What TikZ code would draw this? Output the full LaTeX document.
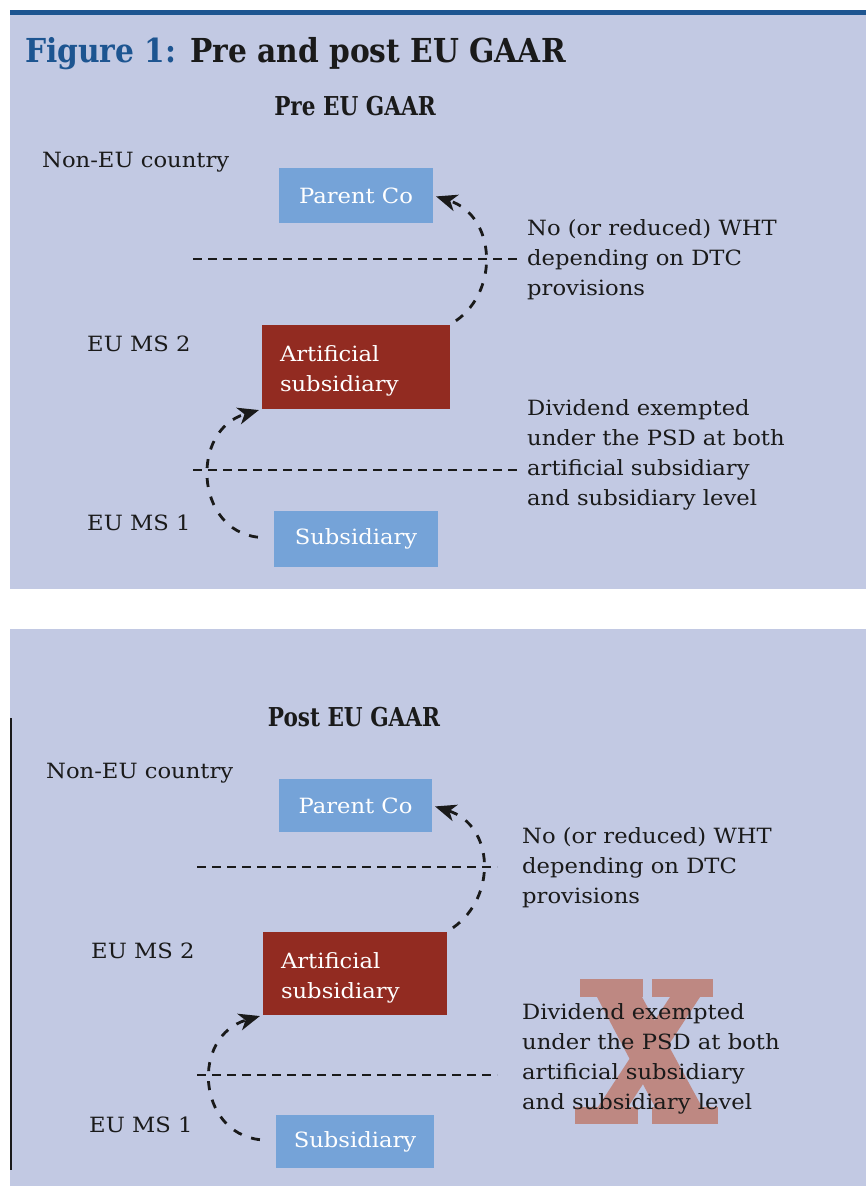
\documentclass[tikz,border=0pt]{standalone}
\usepackage{fontspec}
\setmainfont{DejaVu Serif}[FakeStretch=1.08]
\newfontfamily\headfont{DejaVu Serif}[FakeStretch=0.83]
\newfontfamily\titlefont{DejaVu Serif}[FakeStretch=0.9]
\usetikzlibrary{arrows.meta}
\definecolor{panelbg}{HTML}{C2C9E3}
\definecolor{boxblue}{HTML}{75A3D8}
\definecolor{boxred}{HTML}{922B21}
\definecolor{titleblue}{HTML}{1D5591}
\definecolor{xred}{HTML}{BE8882}
\definecolor{inkblack}{HTML}{1A1A1A}
\tikzset{
  bodytxt/.style={font=\fontsize{21}{30}\selectfont, text=inkblack, inner sep=0pt, anchor=base west, align=left},
  headtxt/.style={font=\headfont\bfseries\fontsize{26}{26}\selectfont, text=inkblack, inner sep=0pt, anchor=base},
  bluebox/.style={fill=boxblue, text=white, font=\fontsize{21}{30}\selectfont, inner sep=0pt},
  redbox/.style={fill=boxred, text=white, font=\fontsize{21}{30}\selectfont, align=left, inner xsep=18pt, inner ysep=0pt},
  sepline/.style={draw=inkblack, line width=1.7pt, dash pattern=on 9pt off 6pt},
  flow/.style={draw=inkblack, line width=2.8pt, dash pattern=on 9pt off 10pt, -{Stealth[length=21pt,width=17pt,inset=6pt]}},
}
\begin{document}
\begin{tikzpicture}[x=1pt,y=-1pt]
\useasboundingbox (0,0) rectangle (866,1186);
% backgrounds
\fill[white] (0,0) rectangle (866,1186);
\fill[titleblue] (10,10) rectangle (866,15);
\fill[panelbg] (10,15) rectangle (866,589);
\fill[panelbg] (10,629) rectangle (866,1186);

% title
\node[anchor=base west, inner sep=0pt, font=\titlefont\bfseries\fontsize{33}{33}\selectfont, text=inkblack] (title) at (25,62) {\textcolor{titleblue}{Figure 1:} Pre and post EU GAAR};

% ---------------- panel 1 ----------------
\node[headtxt] (p1head) at (355,115) {Pre EU GAAR};
\node[bodytxt] (p1noneu) at (42,167) {Non-EU country};
\node[bodytxt] (p1ms2) at (87,351) {EU MS 2};
\node[bodytxt] (p1ms1) at (87,530) {EU MS 1};

\node[bluebox, minimum width=154pt, minimum height=55pt] (p1parent) at (356,195.5) {Parent Co};
\node[redbox, minimum width=188pt, minimum height=84pt, text width=152pt] (p1art) at (356,367) {\rule{0pt}{24pt}Artificial\\subsidiary};
\node[bluebox, minimum width=164pt, minimum height=56pt] (p1sub) at (356,539) {Subsidiary};

\coordinate (p1l1a) at (193,259);
\coordinate (p1l1b) at (520,259);
\coordinate (p1l2a) at (193,470);
\coordinate (p1l2b) at (520,470);
\draw[sepline] (p1l1a) -- (p1l1b);
\draw[sepline] (p1l2a) -- (p1l2b);

\node[bodytxt] (p1wht) at (527,295) {No (or reduced) WHT\\depending on DTC\\provisions};
\node[bodytxt] (p1div) at (527,505) {Dividend exempted\\under the PSD at both\\artificial subsidiary\\and subsidiary level};

\draw[flow, shorten <=7pt, shorten >=3pt] (p1art.north east) .. controls +(50,-35) and +(62,20) .. (p1parent.east);
\draw[flow, shorten <=16pt, shorten >=3pt] (p1sub.west) .. controls +(-79,-9) and +(-72,21) .. (p1art.south west);

% ---------------- panel 2 ----------------
\coordinate (p2ruleA) at (11,718);
\coordinate (p2ruleB) at (11,1170);
\draw[inkblack, line width=2pt] (p2ruleA) -- (p2ruleB);

% X mark behind text
\fill[xred] (580,979) rectangle (643,997);
\fill[xred] (652,979) rectangle (713,997);
\fill[xred] (575,1107) rectangle (638,1124);
\fill[xred] (652,1107) rectangle (718,1124);
\fill[xred] (597,997) -- (642,997) -- (702,1107) -- (655,1107) -- cycle;
\fill[xred] (670,997) -- (700,997) -- (628,1107) -- (598,1107) -- cycle;

\node[headtxt] (p2head) at (354,726) {Post EU GAAR};
\node[bodytxt] (p2noneu) at (46,778) {Non-EU country};
\node[bodytxt] (p2ms2) at (91,958) {EU MS 2};
\node[bodytxt] (p2ms1) at (89,1132) {EU MS 1};

\node[bluebox, minimum width=153pt, minimum height=53pt] (p2parent) at (355.5,805.5) {Parent Co};
\node[redbox, minimum width=184pt, minimum height=83pt, text width=148pt] (p2art) at (355,973.5) {\rule{0pt}{24pt}Artificial\\subsidiary};
\node[bluebox, minimum width=158pt, minimum height=53pt] (p2sub) at (355,1141.5) {Subsidiary};

\coordinate (p2l1a) at (197,867);
\coordinate (p2l1b) at (497,867);
\coordinate (p2l2a) at (197,1075);
\coordinate (p2l2b) at (497,1075);
\draw[sepline] (p2l1a) -- (p2l1b);
\draw[sepline] (p2l2a) -- (p2l2b);

\node[bodytxt] (p2wht) at (522,903) {No (or reduced) WHT\\depending on DTC\\provisions};
\node[bodytxt] (p2div) at (522,1109) {Dividend exempted\\under the PSD at both\\artificial subsidiary\\and subsidiary level};

\draw[flow, shorten <=7pt, shorten >=3pt] (p2art.north east) .. controls +(50,-35) and +(62,20) .. (p2parent.east);
\draw[flow, shorten <=16pt, shorten >=3pt] (p2sub.west) .. controls +(-79,-9) and +(-72,21) .. (p2art.south west);
\end{tikzpicture}
\end{document}
